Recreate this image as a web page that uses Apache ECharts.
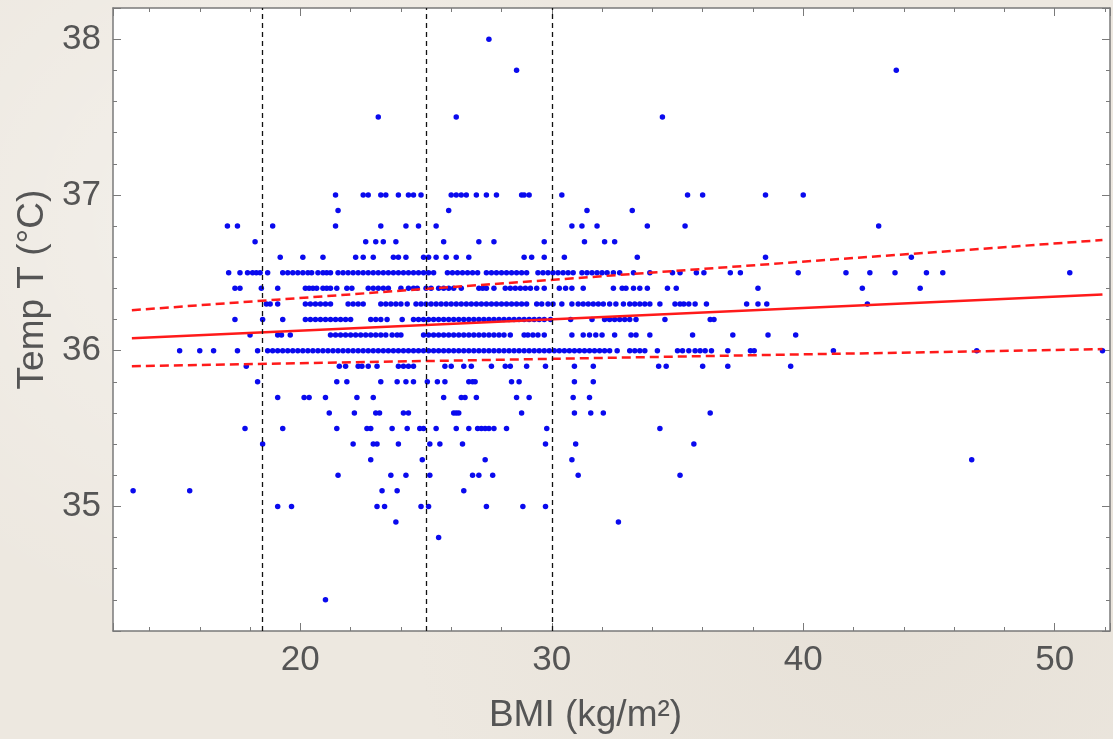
<!DOCTYPE html>
<html>
<head>
<meta charset="utf-8">
<title>Temp vs BMI</title>
<style>
  html, body { margin: 0; padding: 0; }
  body {
    width: 1113px; height: 739px; overflow: hidden;
    background-color: #ede8e0;
    background-image:
      radial-gradient(circle at 20% 30%, rgba(255,255,255,0.35) 0, rgba(255,255,255,0) 40%),
      radial-gradient(circle at 80% 80%, rgba(200,190,175,0.18) 0, rgba(200,190,175,0) 45%);
  }
  #main { width: 1113px; height: 739px; }
</style>
</head>
<body>
<div id="main"></div>
<script src="https://cdn.jsdelivr.net/npm/echarts@6/dist/echarts.min.js"></script>
<script>
// BMI values, one array per temperature row
var bmi_38_0 = [27.5];
var bmi_37_8 = [28.6, 43.7];
var bmi_37_5 = [23.1, 26.2, 34.4];
var bmi_37_0 = [21.4, 22.5, 22.7, 23.2, 23.4, 23.9, 24.3, 24.5, 24.8, 26.0, 26.2, 26.4, 26.6, 27.0, 27.4, 27.8, 28.8, 28.9, 29.1, 30.4, 35.4, 36.0, 38.5, 40.0];
var bmi_36_9 = [21.5, 25.9, 31.4, 33.2];
var bmi_36_8 = [17.1, 17.5, 18.9, 21.4, 23.2, 24.2, 24.7, 25.4, 30.8, 31.2, 31.8, 33.8, 35.3, 43.0];
var bmi_36_7 = [18.2, 22.6, 23.0, 23.3, 23.8, 25.7, 27.1, 27.7, 29.7, 31.3, 32.1, 32.5];
var bmi_36_6 = [19.2, 20.1, 20.9, 22.2, 22.5, 22.9, 23.7, 23.9, 24.2, 24.9, 25.1, 25.4, 25.8, 26.2, 26.7, 28.9, 29.2, 29.7, 30.5, 33.4, 38.5, 44.3];
var bmi_36_5 = [17.15, 17.6, 17.9, 18.1, 18.25, 18.4, 18.7,
  19.3, 19.5, 19.7, 19.9, 20.1, 20.3, 20.45, 20.7, 20.9, 21.05, 21.2, 21.5, 21.7, 21.9, 22.1, 22.3, 22.5, 22.7, 22.9,
  23.1, 23.3, 23.5, 23.7, 23.9, 24.1, 24.3, 24.5, 24.7, 24.9, 25.1, 25.3, 25.85, 26.05, 26.25, 26.45, 26.65, 26.85,
  27.05, 27.4, 27.6, 27.8, 28.0, 28.2, 28.4, 28.6, 28.8, 29.0, 29.45, 29.65, 29.85, 30.05, 30.25, 30.45, 30.65, 30.85,
  31.2, 31.4, 31.6, 31.8, 32.0, 32.2, 32.45, 32.7, 33.25, 33.9, 34.8, 35.1, 35.75, 36.05, 37.1, 37.5, 39.8, 41.7,
  42.65, 43.65, 44.9, 45.55, 50.6];
var bmi_36_4 = [17.4, 17.6, 18.45, 19.1, 20.2, 20.35, 20.5, 20.65, 20.9, 21.05, 21.2, 21.45, 21.85, 22.05, 22.7, 22.9,
  23.1, 23.3, 23.5, 24.0, 24.3, 24.5, 24.65, 25.0, 25.2, 25.5, 25.7, 25.9, 26.1, 26.4, 27.1, 27.25, 27.4, 27.7, 28.15,
  28.35, 28.55, 28.75, 28.95, 29.15, 29.4, 29.7, 30.3, 30.55, 30.8, 31.25, 32.45, 32.8, 32.95, 33.25, 33.5, 33.8, 34.6,
  34.95, 38.2, 42.35, 44.65];
var bmi_36_3 = [18.65, 18.8, 19.1, 20.2, 20.4, 20.6, 20.8, 21.0, 21.2, 21.9, 22.1, 22.3, 22.5, 23.2, 23.4, 23.6, 23.8,
  24.0, 24.25, 24.6, 24.8, 25.0, 25.2, 25.4, 25.6, 25.8, 26.0, 26.2, 26.4, 26.6, 26.8, 27.0, 27.2, 27.4, 27.6, 27.8,
  28.0, 28.2, 28.4, 28.6, 28.8, 29.0, 29.4, 29.6, 29.85, 30.05, 30.4, 30.8, 31.05, 31.25, 31.45, 31.65, 31.85, 32.05,
  32.3, 32.55, 32.85, 33.1, 33.3, 33.5, 33.7, 33.9, 34.3, 34.9, 35.1, 35.25, 35.45, 35.7, 36.15, 37.75, 38.2, 38.55, 42.55];
var bmi_36_2 = [17.4, 18.5, 19.3, 20.2, 20.4, 20.6, 20.8, 21.0, 21.2, 21.4, 21.6, 21.8, 22.0, 22.8, 23.0, 23.2, 23.45,
  24.05, 24.5, 24.7, 24.9, 25.1, 25.3, 25.5, 25.7, 25.9, 26.1, 26.3, 26.5, 26.7, 26.9, 27.1, 27.3, 27.5, 27.7, 27.9,
  28.1, 28.3, 28.5, 28.7, 28.9, 29.1, 29.3, 29.5, 29.7, 29.95, 30.75, 31.6, 32.1, 32.3, 32.5, 32.7, 32.9, 33.1, 33.35,
  34.5, 36.3, 36.45];
var bmi_36_1 = [18.0, 19.1, 19.25, 19.6, 21.2, 21.4, 21.6, 21.8, 22.0, 22.2, 22.4, 22.6, 22.8, 23.0, 23.2, 23.4, 23.65,
  23.85, 24.0, 24.9, 25.1, 25.3, 25.5, 25.7, 25.9, 26.1, 26.3, 26.5, 26.7, 26.9, 27.1, 27.3, 27.5, 27.7, 27.9, 28.1,
  28.35, 28.9, 29.05, 29.25, 29.45, 29.7, 30.8, 31.25, 31.5, 31.75, 32.0, 32.5, 33.15, 33.35, 33.9, 35.6, 37.2, 38.6, 39.7];
var bmi_36_0 = [15.2, 16.0, 16.55, 17.5, 18.3, 18.7, 18.9, 19.1, 19.3, 19.5, 19.7, 19.9, 20.1, 20.3, 20.5, 20.7, 20.9,
  21.1, 21.3, 21.5, 21.7, 21.9, 22.1, 22.3, 22.5, 22.7, 22.9, 23.1, 23.3, 23.5, 23.7, 23.9, 24.1, 24.3, 24.5, 24.7,
  24.9, 25.1, 25.3, 25.5, 25.7, 25.9, 26.1, 26.3, 26.5, 26.7, 26.9, 27.1, 27.3, 27.5, 27.7, 27.9, 28.1, 28.3, 28.5,
  28.7, 28.9, 29.1, 29.3, 29.5, 29.7, 29.9, 30.1, 30.3, 30.5, 30.7, 30.9, 31.1, 31.3, 31.5, 31.7, 31.9, 32.1, 32.3,
  32.6, 33.1, 33.3, 33.5, 33.7, 34.2, 35.0, 35.2, 35.45, 35.7, 35.9, 36.1, 36.35, 37.0, 37.9, 38.05, 41.2, 46.9, 51.9];
var bmi_35_9 = [17.85, 21.55, 21.8, 22.3, 22.45, 22.7, 23.05, 23.9, 24.1, 24.3, 24.5, 25.75, 26.0, 26.5, 26.8, 27.6,
  28.15, 28.35, 29.0, 29.75, 30.9, 31.65, 34.25, 34.55, 36.0, 37.0, 39.5];
var bmi_35_8 = [18.3, 21.45, 21.85, 23.2, 23.85, 24.2, 24.5, 25.05, 25.45, 25.75, 26.7, 26.85, 26.95, 28.4, 28.7, 30.9, 31.65];
var bmi_35_7 = [19.1, 20.15, 20.35, 21.0, 22.25, 22.9, 25.7, 26.4, 26.55, 27.0, 28.6, 29.1, 30.85, 31.5];
var bmi_35_6 = [21.15, 22.15, 23.0, 23.15, 24.1, 24.3, 26.1, 26.2, 26.3, 28.8, 30.9, 31.55, 32.05, 36.3];
var bmi_35_5 = [17.8, 19.3, 21.45, 22.65, 22.8, 23.65, 24.25, 24.75, 24.9, 25.4, 26.2, 26.7, 27.05, 27.2, 27.35, 27.5,
  27.7, 28.2, 29.8, 34.3];
var bmi_35_4 = [18.5, 22.1, 22.9, 23.05, 23.9, 25.15, 25.55, 26.45, 29.75, 30.95, 35.65];
var bmi_35_3 = [22.8, 24.85, 27.35, 30.8, 46.7];
var bmi_35_2 = [21.5, 23.6, 24.2, 25.15, 26.85, 27.1, 27.65, 31.05, 35.1];
var bmi_35_1 = [13.35, 15.6, 23.25, 23.85, 26.5];
var bmi_35_0 = [19.1, 19.65, 23.05, 23.35, 24.8, 25.1, 27.4, 28.85, 29.75];
var bmi_34_9 = [23.8, 32.65];
var bmi_34_8 = [25.5];
var bmi_34_4 = [21.0];

var tempRows = [38.0, 37.8, 37.5, 37.0, 36.9, 36.8, 36.7, 36.6, 36.5, 36.4, 36.3, 36.2, 36.1, 36.0,
  35.9, 35.8, 35.7, 35.6, 35.5, 35.4, 35.3, 35.2, 35.1, 35.0, 34.9, 34.8, 34.4];
var bmiRows = [bmi_38_0, bmi_37_8, bmi_37_5, bmi_37_0, bmi_36_9, bmi_36_8, bmi_36_7, bmi_36_6, bmi_36_5, bmi_36_4,
  bmi_36_3, bmi_36_2, bmi_36_1, bmi_36_0, bmi_35_9, bmi_35_8, bmi_35_7, bmi_35_6, bmi_35_5, bmi_35_4, bmi_35_3,
  bmi_35_2, bmi_35_1, bmi_35_0, bmi_34_9, bmi_34_8, bmi_34_4];

// regression line and its band (end points)
var fitX = [13.3, 51.9];
var fitY = [36.08, 36.36];
var upperY = [36.26, 36.71];
var lowerY = [35.90, 36.01];

// BMI category cut-offs (vertical dashed lines)
var cutoffs = [18.5, 25, 30];

var points = [];
for (var i = 0; i < tempRows.length; i++) {
    for (var j = 0; j < bmiRows[i].length; j++) {
        points.push([bmiRows[i][j], tempRows[i]]);
    }
}

function pairs(xs, ys) {
    return xs.map(function (x, k) { return [x, ys[k]]; });
}

var FONT = "'Liberation Sans', Arial, sans-serif";
var frameColor = '#7a7a7a';
var textColor = '#555';

function frameAxis(extra) {
    var base = {
        type: 'value',
        scale: true,
        axisLine: { show: true, onZero: false, lineStyle: { color: frameColor, width: 1.5 } },
        axisTick: { show: true, inside: true, length: 8, lineStyle: { color: frameColor, width: 1 } },
        minorTick: { show: true, splitNumber: 5, length: 4, lineStyle: { color: frameColor, width: 1 } },
        splitLine: { show: false },
        minorSplitLine: { show: false },
        axisLabel: { show: false }
    };
    for (var k in extra) base[k] = extra[k];
    return base;
}

var myChart = echarts.init(document.getElementById('main'));

var option = {
    animation: false,
    backgroundColor: 'transparent',
    grid: {
        left: 113, right: 3, top: 8, bottom: 107,
        show: true, backgroundColor: '#ffffff', borderWidth: 0
    },
    xAxis: [
        frameAxis({
            position: 'bottom', min: 12.55, max: 52.2,
            name: 'BMI (kg/m²)', nameLocation: 'middle', nameGap: 66,
            nameTextStyle: { color: textColor, fontSize: 37, fontFamily: FONT, padding: [0, 52, 0, 0] },
            axisLabel: { show: true, showMinLabel: false, showMaxLabel: false, margin: 12,
                color: textColor, fontSize: 35, fontFamily: FONT }
        }),
        frameAxis({ position: 'top', min: 12.55, max: 52.2 })
    ],
    yAxis: [
        frameAxis({
            position: 'left', min: 34.2, max: 38.2,
            name: 'Temp T (°C)', nameLocation: 'middle', nameGap: 56, nameRotate: 90,
            nameTextStyle: { color: textColor, fontSize: 37, fontFamily: FONT, padding: [0, 0, 0, 60] },
            axisLabel: { show: true, showMinLabel: false, showMaxLabel: false, margin: 12,
                color: textColor, fontSize: 35, fontFamily: FONT }
        }),
        frameAxis({ position: 'right', min: 34.2, max: 38.2 })
    ],
    series: [
        {
            type: 'scatter',
            xAxisIndex: 0, yAxisIndex: 0,
            symbol: 'circle',
            symbolSize: 5.5,
            itemStyle: { color: '#0a0aee', opacity: 1 },
            data: points,
            markLine: {
                silent: true,
                symbol: ['none', 'none'],
                label: { show: false },
                lineStyle: { color: '#111', type: [5, 4], width: 1.3 },
                data: cutoffs.map(function (c) { return { xAxis: c }; })
            },
            z: 3
        },
        {
            type: 'line', name: 'fit',
            data: pairs(fitX, fitY),
            symbol: 'none',
            lineStyle: { color: '#ff1a1a', width: 2.5 },
            z: 4
        },
        {
            type: 'line', name: 'upper',
            data: pairs(fitX, upperY),
            symbol: 'none',
            lineStyle: { color: '#ff1a1a', width: 2.5, type: [9, 5] },
            z: 4
        },
        {
            type: 'line', name: 'lower',
            data: pairs(fitX, lowerY),
            symbol: 'none',
            lineStyle: { color: '#ff1a1a', width: 2.5, type: [9, 5] },
            z: 4
        }
    ]
};

myChart.setOption(option);
</script>
</body>
</html>
